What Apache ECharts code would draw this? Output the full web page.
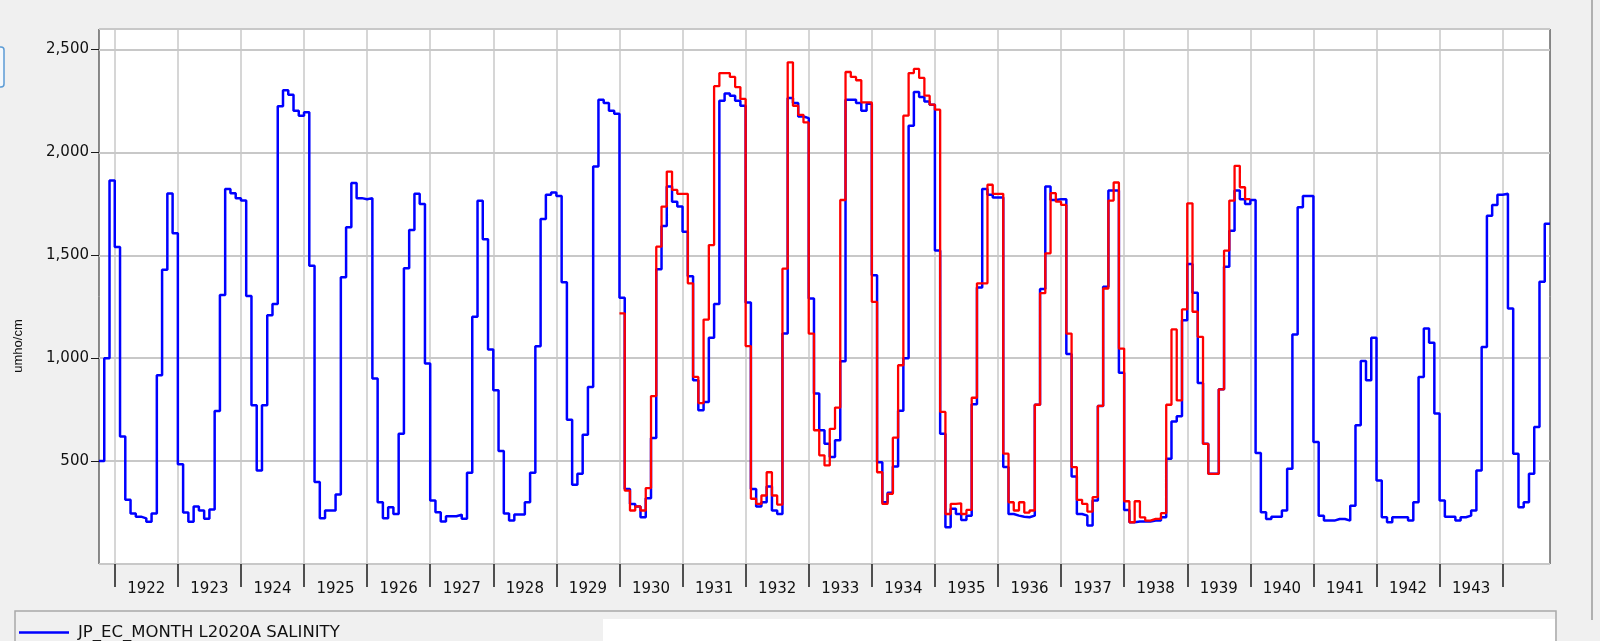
<!DOCTYPE html>
<html>
<head>
<meta charset="utf-8">
<title>JP_EC_MONTH L2020A SALINITY</title>
<script src="https://cdn.jsdelivr.net/npm/echarts@6/dist/echarts.min.js"></script>
<style>
    html, body { margin: 0; padding: 0; background: #f0f0f0; }
    #main { width: 1600px; height: 641px; }
</style>
</head>
<body>
<div id="main"></div>
<script>
// monthly salinity, one value per month, water years 1922 - 1944 (Oct 1921 .. Sep 1944)
var blueName = 'JP_EC_MONTH L2020A SALINITY';
var blueStart = [1921, 10];
var blueValues = [
    500, 1000, 1864, 1540, 620, 312, 245, 230, 222, 205, 245, 917,
    1430, 1800, 1607, 485, 250, 205, 280, 260, 220, 265, 743, 1307,
    1823, 1802, 1778, 1766, 1302, 771, 455, 771, 1209, 1263, 2224, 2302,
    2281, 2203, 2179, 2195, 1450, 398, 222, 260, 260, 338, 1393, 1636,
    1851, 1778, 1773, 1778, 901, 300, 222, 276, 243, 633, 1437, 1623,
    1799, 1750, 974, 308, 252, 206, 232, 232, 240, 220, 443, 1201,
    1765, 1578, 1042, 844, 549, 245, 211, 240, 240, 300, 443, 1058,
    1677, 1794, 1805, 1789, 1369, 701, 385, 438, 628, 860, 1932, 2256,
    2240, 2203, 2188, 1294, 365, 292, 280, 227, 320, 612, 1432, 1643,
    1834, 1761, 1737, 1615, 1399, 893, 747, 787, 1099, 1263, 2251, 2286,
    2276, 2251, 2227, 1271, 365, 280, 300, 377, 260, 243, 1120, 2265,
    2240, 2175, 2167, 1290, 828, 650, 585, 520, 601, 985, 2256, 2256,
    2240, 2203, 2237, 1403, 495, 300, 346, 474, 745, 1000, 2130, 2294,
    2269, 2248, 2232, 1523, 633, 179, 268, 243, 214, 235, 776, 1344,
    1823, 1794, 1781, 1781, 471, 243, 235, 230, 227, 235, 774, 1336,
    1834, 1769, 1773, 1773, 1021, 425, 243, 235, 187, 308, 768, 1347,
    1815, 1815, 929, 263, 203, 206, 206, 206, 211, 211, 227, 511,
    693, 718, 1185, 1458, 1318, 880, 584, 438, 438, 849, 1445, 1620,
    1815, 1773, 1750, 1769, 540, 251, 219, 230, 230, 260, 463, 1115,
    1734, 1789, 1789, 593, 235, 211, 211, 219, 219, 211, 283, 674,
    987, 893, 1099, 406, 227, 203, 227, 227, 227, 211, 300, 909,
    1144, 1075, 731, 308, 230, 230, 211, 227, 235, 260, 455, 1055,
    1693, 1745, 1794, 1799, 1242, 536, 276, 300, 438, 666, 1372, 1653
];

// second run (red), Jan 1930 .. Dec 1939, not listed in the legend
var redName = 'L2020A SALINITY (2)';
var redStart = [1930, 1];
var redValues = [
    1218, 357, 260, 280, 260, 369, 816, 1542, 1737, 1907, 1818, 1799,
    1799, 1364, 909, 782, 1188, 1550, 2322, 2386, 2386, 2367, 2318, 2260,
    1059, 317, 292, 333, 446, 333, 289, 1435, 2438, 2227, 2183, 2146,
    1120, 650, 528, 479, 657, 760, 1769, 2391, 2367, 2351, 2243, 2243,
    1274, 446, 292, 341, 614, 966, 2179, 2386, 2406, 2362, 2276, 2232,
    2208, 739, 243, 292, 295, 243, 263, 808, 1364, 1364, 1843, 1799,
    1799, 536, 300, 260, 300, 250, 260, 774, 1316, 1510, 1802, 1761,
    1745, 1120, 471, 312, 292, 255, 325, 768, 1339, 1766, 1854, 1047,
    305, 203, 305, 227, 211, 219, 219, 247, 774, 1140, 795, 1237,
    1753, 1226, 1104, 584, 438, 438, 849, 1523, 1766, 1935, 1831, 1773
];

// year ticks sit on 1 Jan, year labels in the middle of each full year
var tickYears = [1922, 1923, 1924, 1925, 1926, 1927, 1928, 1929, 1930, 1931, 1932, 1933,
    1934, 1935, 1936, 1937, 1938, 1939, 1940, 1941, 1942, 1943, 1944];
var labelYears = [1922, 1923, 1924, 1925, 1926, 1927, 1928, 1929, 1930, 1931, 1932, 1933,
    1934, 1935, 1936, 1937, 1938, 1939, 1940, 1941, 1942, 1943];

// x in decimal years, each month held until the next one (period average)
function monthSteps(start, values) {
    var base = start[0] + (start[1] - 1) / 12;
    var pts = values.map(function (v, i) { return [base + i / 12, v]; });
    pts.push([base + values.length / 12, values[values.length - 1]]);
    return pts;
}

var font = 'DejaVu Sans';
var chart = echarts.init(document.getElementById('main'));
var option = {
    backgroundColor: '#f0f0f0',
    animation: false,
    textStyle: { fontFamily: font },
    grid: {
        left: 99, top: 29, right: 50, bottom: 77,
        show: true, backgroundColor: '#ffffff', borderColor: '#1a1a1a', borderWidth: 1
    },
    legend: {
        data: [blueName],
        left: 14, top: 619,
        icon: 'rect', itemWidth: 50, itemHeight: 2.4,
        textStyle: { fontFamily: font, fontSize: 16.5, color: '#111', padding: [0, 0, 0, 4] }
    },
    xAxis: {
        type: 'value',
        min: 1921.75, max: 1944.75,
        axisLine: { show: false },
        axisTick: {
            show: true, customValues: tickYears, length: 23,
            lineStyle: { color: '#1a1a1a', width: 1.5 }
        },
        axisLabel: {
            customValues: labelYears.map(function (y) { return y + 0.5; }),
            formatter: function (v) { return String(Math.floor(v)); },
            margin: 18, fontFamily: font, fontSize: 15, color: '#111'
        },
        splitLine: { show: true, lineStyle: { color: '#c8c8c8', width: 1.5 } }
    },
    yAxis: {
        type: 'value',
        min: 0, max: 2600, interval: 500,
        name: 'umho/cm', nameLocation: 'middle', nameGap: 74,
        nameTextStyle: { fontFamily: 'Liberation Sans', fontSize: 13, color: '#111', padding: [0, 99, 0, 0] },
        axisLine: { show: false },
        axisTick: { show: true, length: 8, lineStyle: { color: '#1a1a1a' } },
        axisLabel: { margin: 10, fontFamily: font, fontSize: 15, color: '#111', showMinLabel: false, showMaxLabel: false },
        splitLine: { lineStyle: { color: '#c8c8c8', width: 2 } }
    },
    graphic: [
        { type: 'rect', z: -10, shape: { x: 15, y: 611, width: 1541, height: 40 },
          style: { fill: '#f0f0f0', stroke: '#a8a8a8', lineWidth: 1.5 } },
        { type: 'rect', z: -9, shape: { x: 603, y: 619, width: 952, height: 30 },
          style: { fill: '#ffffff' } },
        { type: 'line', z: -10, shape: { x1: 1592, y1: 0, x2: 1592, y2: 620 },
          style: { stroke: '#b0b0b0', lineWidth: 2 } },
        { type: 'rect', z: -10, shape: { x: -6, y: 47, width: 10, height: 40, r: 3 },
          style: { fill: '#f4f8fc', stroke: '#5b9bd5', lineWidth: 1.5 } }
    ],
    series: [
        {
            name: blueName, type: 'line', step: 'end', symbol: 'none',
            data: monthSteps(blueStart, blueValues),
            lineStyle: { color: '#0000ff', width: 2.5 },
            itemStyle: { color: '#0000ff' },
            z: 2
        },
        {
            name: redName, type: 'line', step: 'end', symbol: 'none',
            data: monthSteps(redStart, redValues),
            lineStyle: { color: '#ff0000', width: 2.3 },
            itemStyle: { color: '#ff0000' },
            z: 3
        }
    ]
};
chart.setOption(option);
</script>
</body>
</html>
